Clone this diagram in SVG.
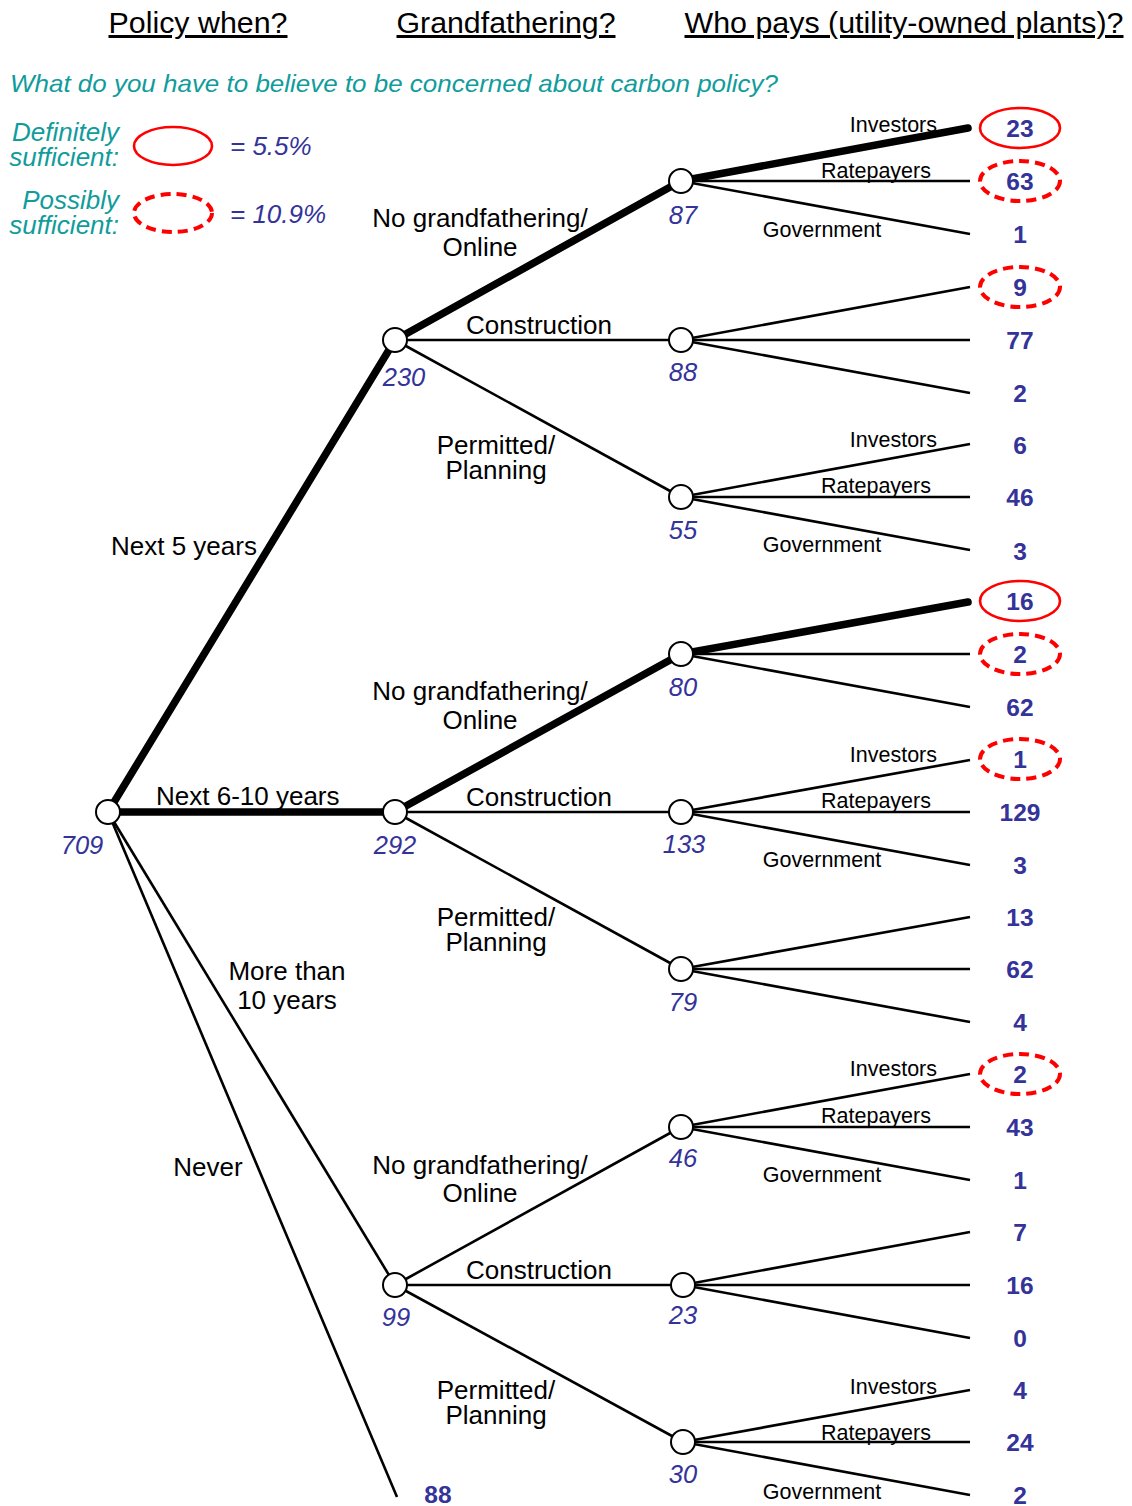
<svg xmlns="http://www.w3.org/2000/svg" width="1132" height="1506" viewBox="0 0 1132 1506">
<style>
text{font-family:"Liberation Sans",Arial,sans-serif}
.hd{font-size:30px;fill:#000;text-decoration:underline;text-anchor:middle}
.sub{font-size:24px;font-style:italic;fill:#119c9c}
.lg{font-size:26px;font-style:italic;fill:#119c9c;text-anchor:end}
.pct{font-size:26px;font-style:italic;fill:#333399}
.br{font-size:26px;fill:#000}
.lf{font-size:21.5px;fill:#000}
.num{font-size:25.5px;font-style:italic;fill:#333399;text-anchor:middle}
.leaf{font-size:24.5px;font-weight:bold;fill:#333399;text-anchor:middle}
.thin{stroke:#000;stroke-width:2.6;fill:none}
.thick{stroke:#000;stroke-width:7.5;fill:none;stroke-linecap:round}
.node{fill:#fff;stroke:#000;stroke-width:2}
.def{fill:none;stroke:#f00;stroke-width:2.6}
.pos{fill:none;stroke:#f00;stroke-width:4;stroke-dasharray:10 6}
</style>

<g id="headers">
<text class="hd" x="198" y="33" textLength="179" lengthAdjust="spacingAndGlyphs">Policy when?</text>
<text class="hd" x="506" y="33" textLength="219" lengthAdjust="spacingAndGlyphs">Grandfathering?</text>
<text class="hd" x="904" y="33" textLength="439" lengthAdjust="spacingAndGlyphs">Who pays (utility-owned plants)?</text>
<text class="sub" x="10" y="92" textLength="768" lengthAdjust="spacingAndGlyphs">What do you have to believe to be concerned about carbon policy?</text>
</g>

<g id="legend">
<text class="lg" x="119" y="141">Definitely</text>
<text class="lg" x="119" y="166">sufficient:</text>
<ellipse class="def" cx="173" cy="146" rx="39" ry="19"/>
<text class="pct" x="230" y="155">= 5.5%</text>
<text class="lg" x="119" y="209">Possibly</text>
<text class="lg" x="119" y="234">sufficient:</text>
<ellipse class="pos" cx="173" cy="213" rx="39" ry="19"/>
<text class="pct" x="230" y="223">= 10.9%</text>
</g>

<g id="connectors">
<line class="thick" x1="108" y1="812" x2="395" y2="340"/>
<line class="thick" x1="108" y1="812" x2="395" y2="812"/>
<line class="thin" x1="108" y1="812" x2="395" y2="1285"/>
<line class="thin" x1="108" y1="812" x2="397" y2="1497"/>
<line class="thick" x1="395" y1="340" x2="681" y2="181"/>
<line class="thin" x1="395" y1="340" x2="681" y2="340"/>
<line class="thin" x1="395" y1="340" x2="681" y2="497"/>
<line class="thick" x1="395" y1="812" x2="681" y2="654"/>
<line class="thin" x1="395" y1="812" x2="681" y2="812"/>
<line class="thin" x1="395" y1="812" x2="681" y2="969"/>
<line class="thin" x1="395" y1="1285" x2="681" y2="1127"/>
<line class="thin" x1="395" y1="1285" x2="683" y2="1285"/>
<line class="thin" x1="395" y1="1285" x2="683" y2="1442"/>
<line class="thick" x1="681" y1="181" x2="968" y2="128"/>
<line class="thin" x1="681" y1="181" x2="970" y2="181"/>
<line class="thin" x1="681" y1="181" x2="970" y2="234"/>
<line class="thin" x1="681" y1="340" x2="970" y2="287"/>
<line class="thin" x1="681" y1="340" x2="970" y2="340"/>
<line class="thin" x1="681" y1="340" x2="970" y2="393"/>
<line class="thin" x1="681" y1="497" x2="970" y2="444"/>
<line class="thin" x1="681" y1="497" x2="970" y2="497"/>
<line class="thin" x1="681" y1="497" x2="970" y2="550"/>
<line class="thick" x1="681" y1="654" x2="968" y2="602"/>
<line class="thin" x1="681" y1="654" x2="970" y2="654"/>
<line class="thin" x1="681" y1="654" x2="970" y2="707"/>
<line class="thin" x1="681" y1="812" x2="970" y2="760"/>
<line class="thin" x1="681" y1="812" x2="970" y2="812"/>
<line class="thin" x1="681" y1="812" x2="970" y2="865"/>
<line class="thin" x1="681" y1="969" x2="970" y2="917"/>
<line class="thin" x1="681" y1="969" x2="970" y2="969"/>
<line class="thin" x1="681" y1="969" x2="970" y2="1022"/>
<line class="thin" x1="681" y1="1127" x2="970" y2="1074"/>
<line class="thin" x1="681" y1="1127" x2="970" y2="1127"/>
<line class="thin" x1="681" y1="1127" x2="970" y2="1180"/>
<line class="thin" x1="683" y1="1285" x2="970" y2="1232"/>
<line class="thin" x1="683" y1="1285" x2="970" y2="1285"/>
<line class="thin" x1="683" y1="1285" x2="970" y2="1338"/>
<line class="thin" x1="683" y1="1442" x2="970" y2="1390"/>
<line class="thin" x1="683" y1="1442" x2="970" y2="1442"/>
<line class="thin" x1="683" y1="1442" x2="970" y2="1495"/>
</g>

<g id="branch-labels">
<text class="br" x="111" y="555">Next 5 years</text>
<text class="br" x="156" y="805">Next 6-10 years</text>
<text class="br" x="287" y="980" text-anchor="middle">More than</text>
<text class="br" x="287" y="1009" text-anchor="middle">10 years</text>
<text class="br" x="208" y="1176" text-anchor="middle">Never</text>

<text class="br" x="480" y="227" text-anchor="middle">No grandfathering/</text>
<text class="br" x="480" y="256" text-anchor="middle">Online</text>
<text class="br" x="539" y="334" text-anchor="middle">Construction</text>
<text class="br" x="496" y="454" text-anchor="middle">Permitted/</text>
<text class="br" x="496" y="479" text-anchor="middle">Planning</text>

<text class="br" x="480" y="700" text-anchor="middle">No grandfathering/</text>
<text class="br" x="480" y="729" text-anchor="middle">Online</text>
<text class="br" x="539" y="806" text-anchor="middle">Construction</text>
<text class="br" x="496" y="926" text-anchor="middle">Permitted/</text>
<text class="br" x="496" y="951" text-anchor="middle">Planning</text>

<text class="br" x="480" y="1174" text-anchor="middle">No grandfathering/</text>
<text class="br" x="480" y="1202" text-anchor="middle">Online</text>
<text class="br" x="539" y="1279" text-anchor="middle">Construction</text>
<text class="br" x="496" y="1399" text-anchor="middle">Permitted/</text>
<text class="br" x="496" y="1424" text-anchor="middle">Planning</text>

<text class="lf" x="937" y="132" text-anchor="end">Investors</text>
<text class="lf" x="876" y="178" text-anchor="middle">Ratepayers</text>
<text class="lf" x="822" y="237" text-anchor="middle">Government</text>
<text class="lf" x="937" y="447" text-anchor="end">Investors</text>
<text class="lf" x="876" y="493" text-anchor="middle">Ratepayers</text>
<text class="lf" x="822" y="552" text-anchor="middle">Government</text>
<text class="lf" x="937" y="762" text-anchor="end">Investors</text>
<text class="lf" x="876" y="808" text-anchor="middle">Ratepayers</text>
<text class="lf" x="822" y="867" text-anchor="middle">Government</text>
<text class="lf" x="937" y="1076" text-anchor="end">Investors</text>
<text class="lf" x="876" y="1123" text-anchor="middle">Ratepayers</text>
<text class="lf" x="822" y="1182" text-anchor="middle">Government</text>
<text class="lf" x="937" y="1394" text-anchor="end">Investors</text>
<text class="lf" x="876" y="1440" text-anchor="middle">Ratepayers</text>
<text class="lf" x="822" y="1499" text-anchor="middle">Government</text>
</g>

<g id="n709"><circle class="node" cx="108" cy="812" r="12"/><text class="num" x="82" y="854">709</text></g>
<g id="n230"><circle class="node" cx="395" cy="340" r="12"/><text class="num" x="404" y="386">230</text></g>
<g id="n292"><circle class="node" cx="395" cy="812" r="12"/><text class="num" x="395" y="854">292</text></g>
<g id="n99"><circle class="node" cx="395" cy="1285" r="12"/><text class="num" x="396" y="1326">99</text></g>
<g id="n87"><circle class="node" cx="681" cy="181" r="12"/><text class="num" x="683" y="224">87</text></g>
<g id="n88"><circle class="node" cx="681" cy="340" r="12"/><text class="num" x="683" y="381">88</text></g>
<g id="n55"><circle class="node" cx="681" cy="497" r="12"/><text class="num" x="683" y="539">55</text></g>
<g id="n80"><circle class="node" cx="681" cy="654" r="12"/><text class="num" x="683" y="696">80</text></g>
<g id="n133"><circle class="node" cx="681" cy="812" r="12"/><text class="num" x="684" y="853">133</text></g>
<g id="n79"><circle class="node" cx="681" cy="969" r="12"/><text class="num" x="683" y="1011">79</text></g>
<g id="n46"><circle class="node" cx="681" cy="1127" r="12"/><text class="num" x="683" y="1167">46</text></g>
<g id="n23"><circle class="node" cx="683" cy="1285" r="12"/><text class="num" x="683" y="1324">23</text></g>
<g id="n30"><circle class="node" cx="683" cy="1442" r="12"/><text class="num" x="683" y="1483">30</text></g>
<g id="n88never"><text class="leaf" x="438" y="1503">88</text></g>

<g id="leaves">
<ellipse class="def" cx="1020" cy="128" rx="40" ry="20"/><text class="leaf" x="1020" y="137">23</text>
<ellipse class="pos" cx="1020" cy="181" rx="40" ry="20"/><text class="leaf" x="1020" y="190">63</text>
<text class="leaf" x="1020" y="243">1</text>
<ellipse class="pos" cx="1020" cy="287" rx="40" ry="20"/><text class="leaf" x="1020" y="296">9</text>
<text class="leaf" x="1020" y="349">77</text>
<text class="leaf" x="1020" y="402">2</text>
<text class="leaf" x="1020" y="454">6</text>
<text class="leaf" x="1020" y="506">46</text>
<text class="leaf" x="1020" y="560">3</text>
<ellipse class="def" cx="1020" cy="601" rx="40" ry="20"/><text class="leaf" x="1020" y="610">16</text>
<ellipse class="pos" cx="1020" cy="654" rx="40" ry="20"/><text class="leaf" x="1020" y="663">2</text>
<text class="leaf" x="1020" y="716">62</text>
<ellipse class="pos" cx="1020" cy="759" rx="40" ry="20"/><text class="leaf" x="1020" y="768">1</text>
<text class="leaf" x="1020" y="821">129</text>
<text class="leaf" x="1020" y="874">3</text>
<text class="leaf" x="1020" y="926">13</text>
<text class="leaf" x="1020" y="978">62</text>
<text class="leaf" x="1020" y="1031">4</text>
<ellipse class="pos" cx="1020" cy="1074" rx="40" ry="20"/><text class="leaf" x="1020" y="1083">2</text>
<text class="leaf" x="1020" y="1136">43</text>
<text class="leaf" x="1020" y="1189">1</text>
<text class="leaf" x="1020" y="1241">7</text>
<text class="leaf" x="1020" y="1294">16</text>
<text class="leaf" x="1020" y="1347">0</text>
<text class="leaf" x="1020" y="1399">4</text>
<text class="leaf" x="1020" y="1451">24</text>
<text class="leaf" x="1020" y="1504">2</text>
</g>
</svg>
